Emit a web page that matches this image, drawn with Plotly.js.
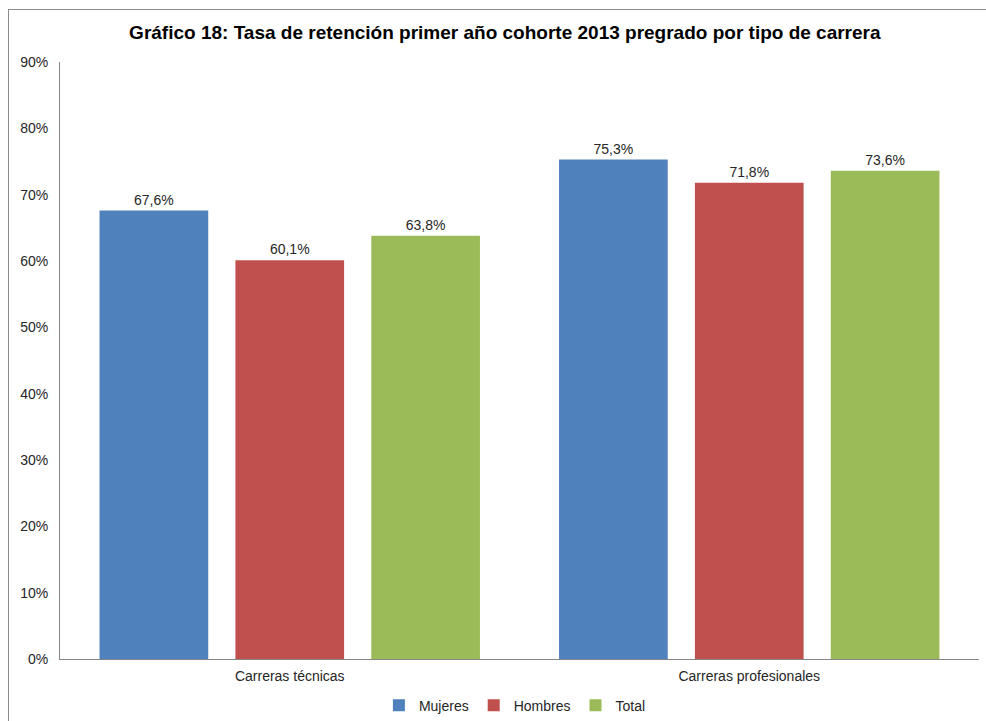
<!DOCTYPE html>
<html>
<head>
<meta charset="utf-8">
<script src="https://cdn.plot.ly/plotly-3.0.1.min.js"></script>
<style>
  html, body { margin: 0; padding: 0; background: #fff; }
  #wrap { position: relative; width: 986px; height: 721px; }
  #chart { position: absolute; left: 0; top: 0; width: 986px; height: 721px; }
  #frame { position: absolute; left: 8px; top: 9px; width: 990px; height: 720px;
           border-left: 1px solid #8c8c8c; border-top: 1px solid #8c8c8c; pointer-events: none; }
</style>
</head>
<body>
<div id="wrap">
  <div id="chart"></div>
  <div id="frame"></div>
</div>
<script>
const categories = ["Carreras técnicas", "Carreras profesionales"];
const seriesNames = ["Mujeres", "Hombres", "Total"];
const mujeres = [67.6, 75.3];
const hombres = [60.1, 71.8];
const total = [63.8, 73.6];
const colors = ["#4F81BD", "#C0504D", "#9BBB59"];
const values = [mujeres, hombres, total];

const traces = seriesNames.map((name, i) => ({
  type: "bar",
  name: name,
  x: categories,
  y: values[i],
  marker: { color: colors[i] },
  text: values[i],
  texttemplate: "%{y:.1f}%",
  textposition: "outside",
  cliponaxis: false,
  textfont: { family: "Liberation Sans, Arial, sans-serif", size: 14, color: "#262626" },
  hoverinfo: "skip"
}));

const layout = {
  width: 986,
  height: 721,
  margin: { l: 60, r: 7, t: 62, b: 62, autoexpand: false },
  paper_bgcolor: "#ffffff",
  plot_bgcolor: "#ffffff",
  separators: ",.",
  font: { family: "Liberation Sans, Arial, sans-serif", size: 14, color: "#262626" },
  title: {
    text: "<b>Gráfico 18: Tasa de retención primer año cohorte 2013 pregrado por tipo de carrera</b>",
    font: { family: "Liberation Sans, Arial, sans-serif", size: 19, color: "#000" },
    x: 0.512, xanchor: "center", y: 0.955, yanchor: "middle", xref: "container"
  },
  barmode: "group",
  bargap: 0.113,
  bargroupgap: 0.2,
  showlegend: true,
  legend: {
    orientation: "h",
    x: 0.495, xanchor: "center",
    y: -0.078, yanchor: "middle",
    font: { size: 14, color: "#262626" },
    itemwidth: 30,
    tracegroupgap: 0
  },
  xaxis: {
    type: "category",
    showline: true,
    linecolor: "#868686",
    linewidth: 1,
    ticks: "",
    showgrid: false,
    ticklabelstandoff: 4,
    tickfont: { size: 14, color: "#262626" }
  },
  yaxis: {
    range: [0, 90],
    dtick: 10,
    tick0: 0,
    ticksuffix: "%",
    showgrid: false,
    zeroline: false,
    showline: true,
    linecolor: "#868686",
    linewidth: 1,
    ticks: "",
    ticklabelstandoff: 8,
    tickfont: { size: 14, color: "#262626" }
  }
};

Plotly.newPlot("chart", traces, layout, { displayModeBar: false, staticPlot: true });
</script>
</body>
</html>
